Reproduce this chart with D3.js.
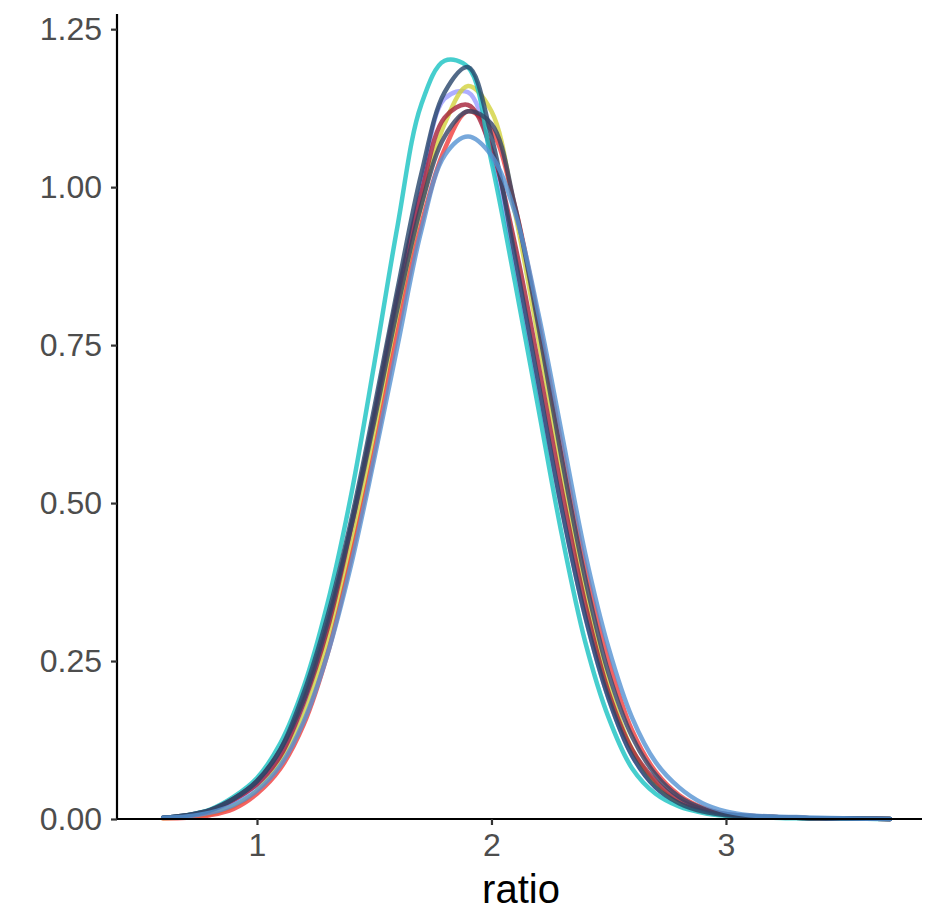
<!DOCTYPE html>
<html><head><meta charset="utf-8">
<script src="https://cdn.jsdelivr.net/npm/d3@7"></script>
<style>body{margin:0;background:#fff}</style>
</head><body>
<script>
const xGrid = [0.6,0.7,0.8,0.9,1.0,1.1,1.2,1.3,1.4,1.5,1.6,1.7,1.8,1.9,2.0,2.1,2.2,2.3,2.4,2.5,2.6,2.7,2.8,2.9,3.0,3.1,3.2,3.3,3.4,3.5,3.6,3.7];
const seriesNames = ["A","B","C","D","E","F","G","H"];
const seriesColors = ["#9a9aff","#d2d23c","#f03c3c","#a51f38","#18c2c2","#27456a","#344465","#5592d2"];
const sA = [0.002,0.005,0.012,0.028,0.055,0.10,0.18,0.30,0.45,0.63,0.82,1.00,1.14,1.15,1.05,0.88,0.68,0.49,0.32,0.19,0.10,0.05,0.025,0.012,0.006,0.004,0.003,0.002,0.001,0.001,0.0005,0.0];
const sB = [0.001,0.003,0.008,0.020,0.045,0.09,0.165,0.28,0.43,0.61,0.80,0.97,1.10,1.16,1.12,0.96,0.76,0.55,0.36,0.21,0.11,0.055,0.025,0.012,0.006,0.004,0.003,0.002,0.001,0.001,0.0005,0.0];
const sC = [0.001,0.002,0.006,0.016,0.040,0.08,0.15,0.26,0.41,0.58,0.77,0.94,1.06,1.12,1.09,0.97,0.79,0.59,0.40,0.25,0.14,0.075,0.038,0.018,0.008,0.005,0.003,0.002,0.001,0.001,0.0005,0.0];
const sD = [0.002,0.005,0.013,0.030,0.055,0.10,0.185,0.30,0.46,0.64,0.83,0.99,1.11,1.13,1.06,0.91,0.72,0.52,0.34,0.20,0.11,0.06,0.03,0.015,0.007,0.004,0.003,0.002,0.001,0.001,0.0005,0.0];
const sE = [0.002,0.006,0.015,0.035,0.065,0.12,0.21,0.34,0.51,0.72,0.94,1.13,1.20,1.19,1.04,0.85,0.65,0.45,0.28,0.16,0.08,0.04,0.02,0.010,0.005,0.003,0.002,0.001,0.001,0.0005,0.0003,0.0];
const sF = [0.002,0.006,0.014,0.032,0.060,0.11,0.20,0.32,0.47,0.65,0.84,1.02,1.15,1.19,1.08,0.89,0.69,0.49,0.32,0.19,0.10,0.05,0.025,0.012,0.006,0.004,0.003,0.002,0.001,0.001,0.0005,0.0];
const sG = [0.002,0.006,0.014,0.032,0.060,0.11,0.19,0.31,0.46,0.63,0.81,0.97,1.08,1.12,1.10,0.97,0.78,0.57,0.38,0.23,0.13,0.07,0.035,0.017,0.008,0.005,0.003,0.002,0.001,0.001,0.0005,0.0];
const sH = [0.002,0.004,0.010,0.022,0.045,0.085,0.155,0.26,0.40,0.57,0.75,0.93,1.05,1.08,1.05,0.96,0.80,0.61,0.42,0.27,0.16,0.09,0.05,0.025,0.012,0.006,0.004,0.003,0.002,0.001,0.0005,0.0];
const seriesValues = [sA,sB,sC,sD,sE,sF,sG,sH];
const yTicks = [0,0.25,0.5,0.75,1.0,1.25];
const yTickLabels = ["0.00","0.25","0.50","0.75","1.00","1.25"];
const xTicks = [1,2,3];
const xTitle = "ratio";

const W = 926, H = 919;
const svg = d3.select("body").append("svg").attr("width",W).attr("height",H);
const x = d3.scaleLinear().domain([0.403,3.836]).range([117,922]);
const y = d3.scaleLinear().domain([0,1.274]).range([819,14]);

const line = d3.line().x((d,i)=>x(xGrid[i])).y(d=>y(d)).curve(d3.curveCatmullRom.alpha(0.5));
seriesValues.forEach((vals,k)=>{
  svg.append("path").datum(vals).attr("d",line)
    .attr("fill","none").attr("stroke",seriesColors[k]).attr("stroke-opacity",0.8)
    .attr("stroke-width",4.5).attr("stroke-linejoin","round").attr("stroke-linecap","round");
});

const font = "'Liberation Sans', Arial, sans-serif";
const yAxis = svg.append("g").attr("transform","translate(117,0)")
  .call(d3.axisLeft(y).tickValues(yTicks).tickFormat((d,i)=>yTickLabels[i]).tickSize(6).tickPadding(9));
const xAxis = svg.append("g").attr("transform","translate(0,819)")
  .call(d3.axisBottom(x).tickValues(xTicks).tickFormat(d3.format("d")).tickSize(6).tickPadding(8));
[yAxis,xAxis].forEach(g=>{
  g.select(".domain").attr("stroke","#000").attr("stroke-width",2.2);
  g.selectAll(".tick line").attr("stroke","#333").attr("stroke-width",2.2);
  g.selectAll(".tick text").attr("fill","#4d4d4d").style("font-family",font).style("font-size","32px");
});
xAxis.select(".domain").attr("d","M117,0H922");
yAxis.select(".domain").attr("d","M0,14V819");
svg.append("text").attr("x",521).attr("y",903).attr("text-anchor","middle")
  .style("font-family",font).style("font-size","40px").attr("fill","#000").text(xTitle);
</script>
</body></html>
